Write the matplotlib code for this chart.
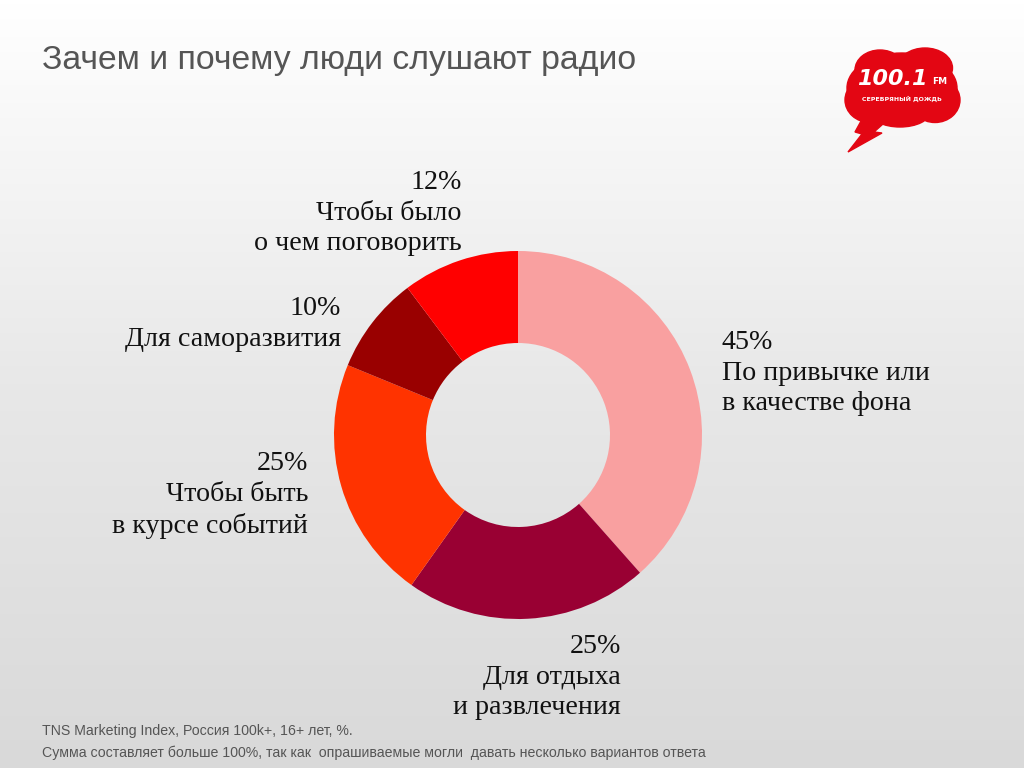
import numpy as np
import matplotlib.pyplot as plt
from matplotlib.colors import LinearSegmentedColormap
from matplotlib.patches import Ellipse, Polygon

# data
values = [45, 25, 25, 10, 12]
colors = ["#F9A0A0", "#990033", "#FF3300", "#990000", "#FF0000"]
labels = [
    "45%\nПо привычке или\nв качестве фона",
    "25%\nДля отдыха\nи развлечения",
    "25%\nЧтобы быть\nв курсе событий",
    "10%\nДля саморазвития",
    "12%\nЧтобы было\nо чем поговорить",
]
# label anchor (pixels from top-left) and alignment
label_pos = [(722, 330, "left"), (621, 634, "right"), (308, 451, "right"),
             (341, 296, "right"), (462, 170, "right")]

title = "Зачем и почему люди слушают радио"
note1 = "TNS Marketing Index, Россия 100k+, 16+ лет, %."
note2 = "Сумма составляет больше 100%, так как  опрашиваемые могли  давать несколько вариантов ответа"

W, H = 1024, 768
fig = plt.figure(figsize=(W / 100, H / 100), dpi=100)

# background gradient
bg = fig.add_axes([0, 0, 1, 1])
grad = np.linspace(0.0, 1.0, 256).reshape(-1, 1)
cmap = LinearSegmentedColormap.from_list("g", ["#d9d9d9", "#e8e8e8", "#ffffff"])
bg.imshow(grad, aspect="auto", cmap=cmap, extent=[0, 1, 0, 1], origin="lower")
bg.axis("off")

# donut
cx, cy, r = 518, 435, 184
ax = fig.add_axes([(cx - r) / W, 1 - (cy + r) / H, 2 * r / W, 2 * r / H])
ax.pie(values, colors=colors, startangle=90, counterclock=False,
       wedgeprops=dict(width=0.5, linewidth=0))
ax.set_xlim(-1, 1)
ax.set_ylim(-1, 1)
ax.set_aspect("equal")
ax.axis("off")

serif = ["Liberation Serif", "DejaVu Serif"]
for lab, (x, y, ha) in zip(labels, label_pos):
    fig.text(x / W, 1 - y / H, lab, ha=ha, va="top", fontsize=20.2,
             family=serif, color="#111111", linespacing=1.3, multialignment=ha)

sans = ["Liberation Sans", "DejaVu Sans"]
fig.text(42 / W, 1 - 60 / H, title, ha="left", va="center", fontsize=24.3,
         family=sans, color="#555555")
fig.text(42 / W, 1 - 731 / H, note1, ha="left", va="center", fontsize=10.2,
         family=sans, color="#555555")
fig.text(42 / W, 1 - 753 / H, note2, ha="left", va="center", fontsize=10.2,
         family=sans, color="#555555")

# logo
lg = fig.add_axes([0, 0, 1, 1])
lg.set_xlim(0, W)
lg.set_ylim(H, 0)
lg.axis("off")
red = "#E30613"
lg.add_patch(Polygon([(866, 112), (892, 116), (874, 132), (882, 133), (848, 152),
                      (862, 134), (855, 132)], closed=True, color=red))
for ex, ey, ew, eh in [(902, 88, 110, 70), (880, 70, 50, 40), (925, 68, 55, 40),
                       (870, 100, 50, 45), (935, 100, 50, 45), (900, 112, 60, 30)]:
    lg.add_patch(Ellipse((ex, ey), ew, eh, color=red))
lg.text(892, 79, "100.1", ha="center", va="center", color="white",
        fontsize=16, fontweight="bold", fontstyle="italic", family="DejaVu Sans")
lg.text(940, 82, "FM", ha="center", va="center", color="white",
        fontsize=6.5, fontweight="bold", family="DejaVu Sans")
lg.text(902, 99, "СЕРЕБРЯНЫЙ ДОЖДЬ", ha="center", va="center", color="white",
        fontsize=4.5, fontweight="bold", family="DejaVu Sans")

fig.savefig("out.png", dpi=100)
